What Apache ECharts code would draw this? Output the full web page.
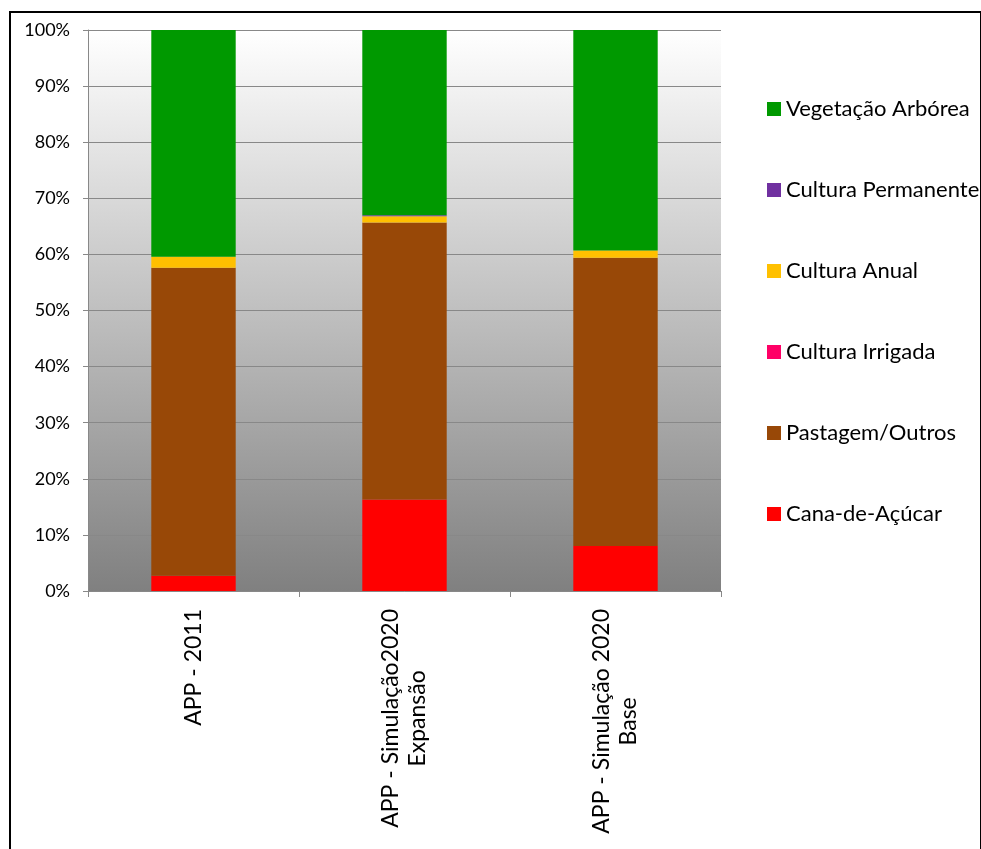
<!DOCTYPE html>
<html>
<head>
<meta charset="utf-8">
<script src="https://cdn.jsdelivr.net/npm/echarts@6/dist/echarts.min.js"></script>
<style>html,body{margin:0;padding:0;background:#fff}#c{width:981px;height:849px}</style>
</head>
<body>
<div id="c"></div>
<script>
const categories = ['APP - 2011', 'APP - Simulação2020\nExpansão', 'APP - Simulação 2020\nBase'];
const cana = [2.7, 16.3, 8.0];
const pastagem = [54.9, 49.4, 51.4];
const irrigada = [0, 0, 0];
const anual = [2.0, 1.1, 1.3];
const permanente = [0, 0.2, 0];
const vegetacao = [40.4, 33.0, 39.3];
const yTicks = [0, 10, 20, 30, 40, 50, 60, 70, 80, 90, 100];

const FONT = 'Lato';
const chart = echarts.init(document.getElementById('c'));
function s(name, data, color) {
  return { name: name, type: 'bar', stack: 'a', data: data, barWidth: '40%',
    itemStyle: { color: color }, emphasis: { disabled: true } };
}
chart.setOption({
  animation: false,
  textStyle: { fontFamily: FONT },
  grid: { left: 88, right: 260, top: 30, bottom: 258, show: true, borderWidth: 0,
    backgroundColor: new echarts.graphic.LinearGradient(0, 0, 0, 1, [
      { offset: 0, color: '#ffffff' }, { offset: 1, color: '#808080' }]) },
  graphic: [{ type: 'rect', shape: { x: 10, y: 12, width: 971, height: 860 },
    style: { fill: 'none', stroke: '#000', lineWidth: 2 }, silent: true }],
  legend: {
    orient: 'vertical', left: 762, top: 93, itemWidth: 14, itemHeight: 14, itemGap: 59,
    icon: 'rect',
    textStyle: { fontFamily: FONT, fontSize: 22, color: '#000', lineHeight: 22 },
    data: ['Vegetação Arbórea', 'Cultura Permanente', 'Cultura Anual', 'Cultura Irrigada', 'Pastagem/Outros', 'Cana-de-Açúcar']
  },
  xAxis: {
    type: 'category', data: categories,
    axisLine: { lineStyle: { color: '#888', width: 1 } },
    axisTick: { show: true, length: 6, lineStyle: { color: '#888' } },
    axisLabel: { rotate: 90, margin: 18, color: '#000', fontFamily: FONT, fontSize: 23,
      formatter: function (v) { return v.split('\n').map(function (l) { return '{c|' + l + '}'; }).join('\n'); },
      rich: { c: { align: 'center', fontFamily: FONT, fontSize: 23, lineHeight: 27, color: '#000' } } }
  },
  yAxis: {
    type: 'value', min: 0, max: 100, interval: 10,
    axisLine: { show: true, lineStyle: { color: '#888' } },
    axisTick: { show: true, length: 5, lineStyle: { color: '#888' } },
    splitLine: { lineStyle: { color: '#888', width: 1 } },
    axisLabel: { formatter: '{value}%', color: '#000', fontFamily: FONT, fontSize: 18, margin: 18 }
  },
  series: [
    s('Cana-de-Açúcar', cana, '#FF0000'),
    s('Pastagem/Outros', pastagem, '#984807'),
    s('Cultura Irrigada', irrigada, '#FF0066'),
    s('Cultura Anual', anual, '#FFC000'),
    s('Cultura Permanente', permanente, '#7030A0'),
    s('Vegetação Arbórea', vegetacao, '#009900')
  ]
});
</script>
</body>
</html>
